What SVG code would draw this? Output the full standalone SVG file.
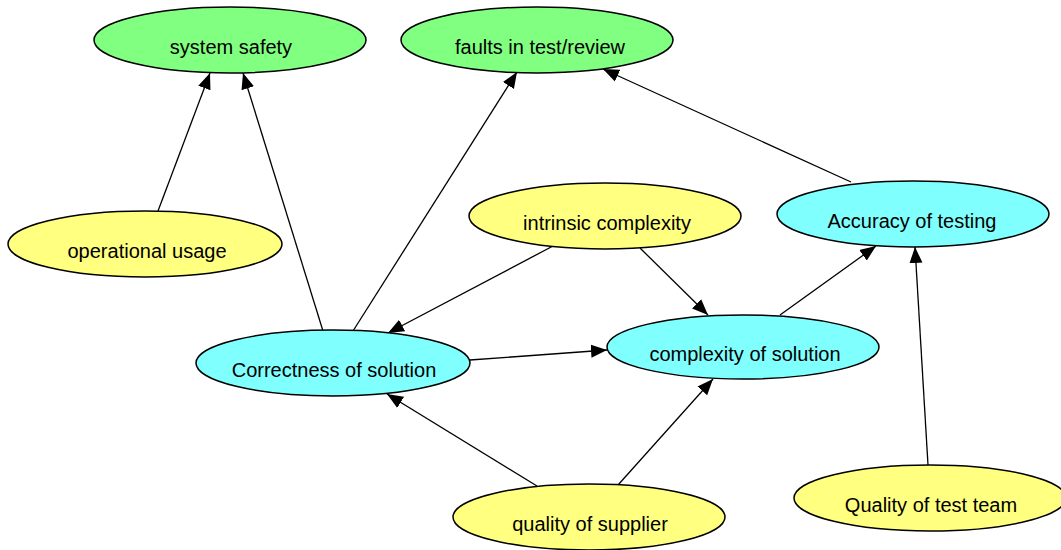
<svg xmlns="http://www.w3.org/2000/svg" width="1061" height="550" viewBox="0 0 1061 550">
<style>
  .node ellipse { stroke: #000; stroke-width: 1.5; }
  .green ellipse { fill: #80FF80; }
  .yellow ellipse { fill: #FFFF80; }
  .cyan ellipse { fill: #80FFFF; }
  .node text { font-family: "Liberation Sans", Arial, sans-serif; font-size: 20px; fill: #000; text-anchor: middle; }
  #edges line { stroke: #000; stroke-width: 1.3; marker-end: url(#arr); }
</style>
<defs>
  <marker id="arr" markerWidth="18" markerHeight="15" refX="16" refY="7.5" orient="auto" markerUnits="userSpaceOnUse">
    <path d="M0,1 L16,7.5 L0,14 z" fill="#000"/>
  </marker>
</defs>
<rect width="1061" height="550" fill="#fff"/>
<g id="edges">
  <line x1="158" y1="211" x2="210" y2="73"/>
  <line x1="323" y1="331" x2="243" y2="73"/>
  <line x1="353" y1="331" x2="517" y2="72"/>
  <line x1="851" y1="182" x2="603" y2="69"/>
  <line x1="553" y1="246" x2="388" y2="333"/>
  <line x1="640" y1="248" x2="708" y2="315"/>
  <line x1="470" y1="360" x2="607" y2="350"/>
  <line x1="780" y1="315" x2="876" y2="246"/>
  <line x1="928" y1="465" x2="915" y2="247"/>
  <line x1="537" y1="486" x2="387" y2="394"/>
  <line x1="618" y1="485" x2="713" y2="379"/>
</g>
<g id="system_safety" class="node green"><ellipse cx="230" cy="40" rx="136" ry="33"/><text x="231" y="54">system safety</text></g>
<g id="faults" class="node green"><ellipse cx="537" cy="40" rx="136" ry="33"/><text x="540" y="54">faults in test/review</text></g>
<g id="operational_usage" class="node yellow"><ellipse cx="145" cy="244" rx="137" ry="33"/><text x="147" y="258">operational usage</text></g>
<g id="intrinsic_complexity" class="node yellow"><ellipse cx="605" cy="216" rx="136" ry="33"/><text x="607" y="230">intrinsic complexity</text></g>
<g id="accuracy_of_testing" class="node cyan"><ellipse cx="913" cy="214" rx="136" ry="33"/><text x="912" y="228">Accuracy of testing</text></g>
<g id="correctness_of_solution" class="node cyan"><ellipse cx="333" cy="363" rx="137" ry="33"/><text x="334" y="377">Correctness of solution</text></g>
<g id="complexity_of_solution" class="node cyan"><ellipse cx="743" cy="347" rx="136" ry="32"/><text x="745" y="361">complexity of solution</text></g>
<g id="quality_of_supplier" class="node yellow"><ellipse cx="589" cy="517" rx="136" ry="33"/><text x="590" y="531">quality of supplier</text></g>
<g id="quality_of_test_team" class="node yellow"><ellipse cx="930" cy="498" rx="136" ry="33"/><text x="931" y="512">Quality of test team</text></g>
</svg>
